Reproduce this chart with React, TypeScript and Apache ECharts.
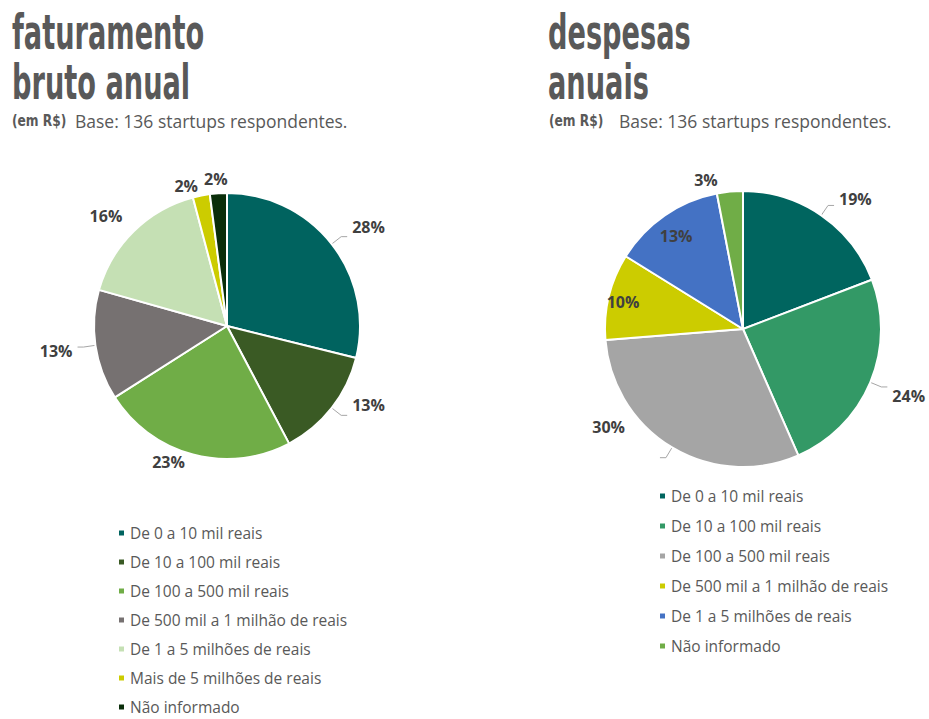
import React, { useEffect, useRef } from "react";
import * as echarts from "echarts";

const revenueCategories = [
  "De 0 a 10 mil reais",
  "De 10 a 100 mil reais",
  "De 100 a 500 mil reais",
  "De 500 mil a 1 milhão de reais",
  "De 1 a 5 milhões de reais",
  "Mais de 5 milhões de reais",
  "Não informado",
];
const revenueValues = [28, 13, 23, 13, 16, 2, 2];
const revenueColors = ["#00635f", "#3a5a24", "#70ad47", "#767171", "#c5e0b4", "#cccc00", "#0a2e0a"];

const expenseCategories = [
  "De 0 a 10 mil reais",
  "De 10 a 100 mil reais",
  "De 100 a 500 mil reais",
  "De 500 mil a 1 milhão de reais",
  "De 1 a 5 milhões de reais",
  "Não informado",
];
const expenseValues = [19, 24, 30, 10, 13, 3];
const expenseColors = ["#00655f", "#339966", "#a5a5a5", "#cccc00", "#4472c4", "#70ad47"];

// label placement tweaks (style only)
const revenueLabelShift = [[0, -10], [0, -10], [6, -4], [0, 4], [8, -7], [10, 2], [21, -2]];
const revenueLeader = [true, true, false, true, false, false, false];
const expenseLabelShift = [[0, -6], [0, 9], [-30, -31], [-50, -10], [-26, -34], [0, 0]];
const expenseLeader = [true, true, true, false, false, false];
const expenseInside = [false, false, false, true, true, false];

const GRAY = "#595959";
const LABEL = "#404040";
const TITLE_FONT = "'DejaVu Sans Condensed', 'DejaVu Sans', sans-serif";
const BODY_FONT = "'Open Sans', 'Noto Sans', sans-serif";

export default function App() {
  const ref = useRef<HTMLDivElement>(null);
  useEffect(() => {
    if (!ref.current) return;
    const chart = echarts.init(ref.current, undefined, { renderer: "svg" });

    const titleText = (text: string, x: number, y: number) => ({
      type: "text",
      x,
      y,
      scaleX: 0.63,
      style: { text, fill: GRAY, font: `bold 48px ${TITLE_FONT}`, textVerticalAlign: "top" },
    });
    const smallBold = (x: number, y: number) => ({
      type: "text",
      x,
      y,
      scaleX: 0.85,
      style: { text: "(em R$)", fill: GRAY, font: `bold 16px ${TITLE_FONT}`, textVerticalAlign: "middle" },
    });
    const baseText = (x: number, y: number) => ({
      type: "text",
      x,
      y,
      style: { text: "Base: 136 startups respondentes.", fill: GRAY, font: `17.5px ${BODY_FONT}`, textVerticalAlign: "middle" },
    });

    const labelCommon = {
      show: true,
      formatter: "{c}%",
      color: LABEL,
      fontWeight: "bold",
      fontSize: 16,
      fontFamily: BODY_FONT,
    };
    const labelLineCommon = { show: true, length: 12, length2: 6, lineStyle: { color: "#a6a6a6", width: 1 } };

    const legendCommon = {
      orient: "vertical",
      icon: "rect",
      itemWidth: 7,
      itemHeight: 7,
      padding: 0,
      selectedMode: false,
      textStyle: { color: GRAY, fontSize: 15.5, fontFamily: BODY_FONT },
    };

    const option = {
      animation: false,
      backgroundColor: "#ffffff",
      graphic: [
        titleText("faturamento", 12, 8),
        titleText("bruto anual", 12, 58),
        smallBold(12, 120),
        baseText(75, 121),
        titleText("despesas", 548, 8),
        titleText("anuais", 548, 58),
        smallBold(549, 120),
        baseText(619, 121),
      ],
      legend: [
        {
          ...legendCommon,
          left: 117,
          top: 525,
          height: 192,
          itemGap: 13,
          data: revenueCategories.map((n, i) => ({ name: n, itemStyle: { color: revenueColors[i] } })),
        },
        {
          ...legendCommon,
          left: 658,
          top: 488,
          height: 200,
          itemGap: 14,
          data: expenseCategories.map((n, i) => ({ name: n, itemStyle: { color: expenseColors[i] } })),
        },
      ],
      series: [
        {
          type: "pie",
          center: [227, 326],
          radius: 133,
          startAngle: 90,
          clockwise: true,
          avoidLabelOverlap: false,
          silent: true,
          itemStyle: { borderColor: "#ffffff", borderWidth: 2 },
          label: labelCommon,
          labelLine: labelLineCommon,
          labelLayout: (p: any) => ({
            dx: revenueLabelShift[p.dataIndex][0],
            dy: revenueLabelShift[p.dataIndex][1],
            hideOverlap: false,
          }),
          data: revenueCategories.map((n, i) => ({
            name: n,
            value: revenueValues[i],
            itemStyle: { color: revenueColors[i] },
            labelLine: { show: revenueLeader[i] },
          })),
        },
        {
          type: "pie",
          center: [743, 329],
          radius: 138,
          startAngle: 90,
          clockwise: true,
          avoidLabelOverlap: false,
          silent: true,
          itemStyle: { borderColor: "#ffffff", borderWidth: 2 },
          label: labelCommon,
          labelLine: labelLineCommon,
          labelLayout: (p: any) => ({
            dx: expenseLabelShift[p.dataIndex][0],
            dy: expenseLabelShift[p.dataIndex][1],
            hideOverlap: false,
          }),
          data: expenseCategories.map((n, i) => ({
            name: n,
            value: expenseValues[i],
            itemStyle: { color: expenseColors[i] },
            labelLine: { show: expenseLeader[i] },
            label: { position: expenseInside[i] ? "inside" : "outside" },
          })),
        },
      ],
    };
    chart.setOption(option as any);
    return () => chart.dispose();
  }, []);
  return (
    <div style={{ position: "absolute", left: 0, top: 0, width: 929, height: 719, background: "#fff" }}>
      <div ref={ref} style={{ width: 929, height: 719 }} />
    </div>
  );
}
